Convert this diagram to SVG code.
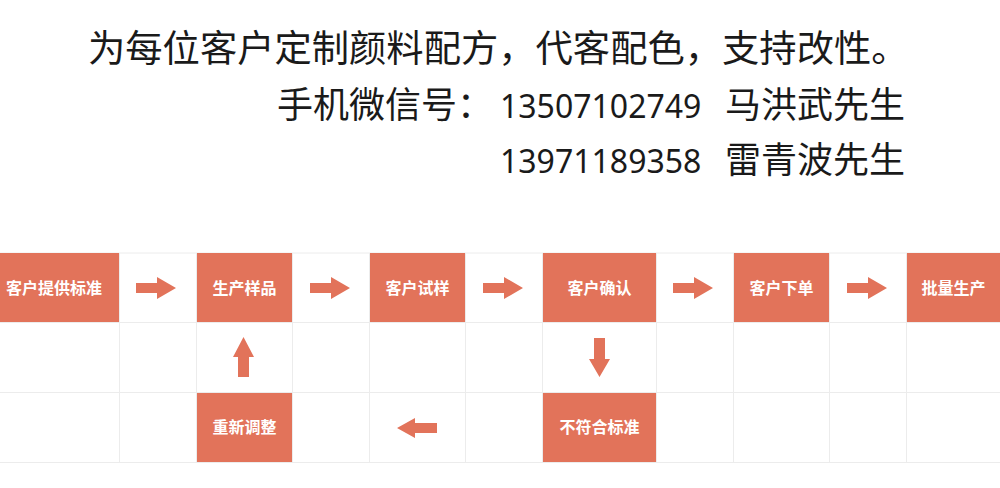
<svg xmlns="http://www.w3.org/2000/svg" width="1000" height="488" viewBox="0 0 1000 488">
<style>
.hdr{font-family:"Noto Sans CJK SC","Noto Sans",sans-serif;font-size:36px;fill:#1a1a1a;}
.num{font-family:"Noto Sans","Noto Sans CJK SC",sans-serif;font-size:32px;}
.grid line{stroke:#ececec;stroke-width:1;}
.box{fill:#E2735A;}
.lbl{font-family:"Noto Sans CJK SC",sans-serif;font-size:16px;font-weight:bold;fill:#ffffff;text-anchor:middle;}
.arr{fill:#E2735A;}
</style>
<rect width="1000" height="488" fill="#ffffff"/>
<g id="header">
<text class="hdr" x="88" y="62" style="font-size:37.3px">为每位客户定制颜料配方，代客配色，支持改性。</text>
<text class="hdr" y="118"><tspan x="277">手机微信号：</tspan><tspan class="num" x="500">13507102749</tspan><tspan x="725">马洪武先生</tspan></text>
<text class="hdr" y="173"><tspan class="num" x="500">13971189358</tspan><tspan x="725">雷青波先生</tspan></text>
</g>
<g class="grid" id="grid">
<line x1="0" y1="253" x2="1000" y2="253"/>
<line x1="0" y1="322.5" x2="1000" y2="322.5"/>
<line x1="0" y1="392.5" x2="1000" y2="392.5"/>
<line x1="0" y1="462.5" x2="1000" y2="462.5"/>
<line x1="119.5" y1="253" x2="119.5" y2="463"/>
<line x1="196.5" y1="253" x2="196.5" y2="463"/>
<line x1="292.5" y1="253" x2="292.5" y2="463"/>
<line x1="369.5" y1="253" x2="369.5" y2="463"/>
<line x1="465.5" y1="253" x2="465.5" y2="463"/>
<line x1="542.5" y1="253" x2="542.5" y2="463"/>
<line x1="656.5" y1="253" x2="656.5" y2="463"/>
<line x1="733.5" y1="253" x2="733.5" y2="463"/>
<line x1="829.5" y1="253" x2="829.5" y2="463"/>
<line x1="906.5" y1="253" x2="906.5" y2="463"/>
</g>
<g id="n1"><rect class="box" x="0" y="253" width="119" height="69"/><text class="lbl" x="54" y="294">客户提供标准</text></g>
<g id="n2"><rect class="box" x="197" y="253" width="95" height="69"/><text class="lbl" x="244.5" y="294">生产样品</text></g>
<g id="n3"><rect class="box" x="370" y="253" width="95" height="69"/><text class="lbl" x="417.5" y="294">客户试样</text></g>
<g id="n4"><rect class="box" x="543" y="253" width="113" height="69"/><text class="lbl" x="599.5" y="294">客户确认</text></g>
<g id="n5"><rect class="box" x="734" y="253" width="95" height="69"/><text class="lbl" x="781.5" y="294">客户下单</text></g>
<g id="n6"><rect class="box" x="907" y="253" width="93" height="69"/><text class="lbl" x="953.5" y="294">批量生产</text></g>
<g id="n7"><rect class="box" x="197" y="393" width="95" height="69"/><text class="lbl" x="244.5" y="433">重新调整</text></g>
<g id="n8"><rect class="box" x="543" y="393" width="113" height="69"/><text class="lbl" x="599.5" y="433">不符合标准</text></g>
<g id="connectors">
<polygon class="arr" points="136,283 157,283 157,277 176,288 157,299 157,293 136,293"/>
<polygon class="arr" points="310,283 331,283 331,277 350,288 331,299 331,293 310,293"/>
<polygon class="arr" points="483,283 504,283 504,277 523,288 504,299 504,293 483,293"/>
<polygon class="arr" points="673,283 694,283 694,277 713,288 694,299 694,293 673,293"/>
<polygon class="arr" points="847,283 868,283 868,277 887,288 868,299 868,293 847,293"/>
<polygon class="arr" points="238,377 238,357 233,357 243.5,337 254,357 249,357 249,377"/>
<polygon class="arr" points="594,338 605,338 605,359 610,359 599.5,377 589,359 594,359"/>
<polygon class="arr" points="437,423 415,423 415,418 397,428 415,438 415,433 437,433"/>
</g>
</svg>
